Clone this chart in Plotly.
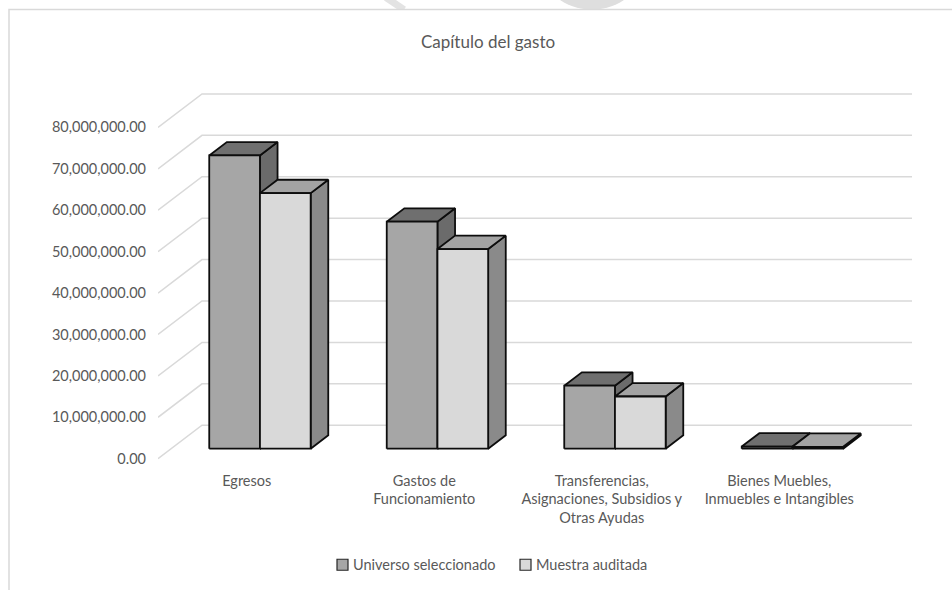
import math
import plotly.graph_objects as go

# ---------------- data ----------------
categories = ["Egresos", "Gastos de Funcionamiento",
              "Transferencias, Asignaciones, Subsidios y Otras Ayudas",
              "Bienes Muebles, Inmuebles e Intangibles"]
tick_text = ["Egresos", "Gastos de<br>Funcionamiento",
             "Transferencias,<br>Asignaciones, Subsidios y<br>Otras Ayudas",
             "Bienes Muebles,<br>Inmuebles e Intangibles"]
series_names = ["Universo seleccionado", "Muestra auditada"]
universo = [70.8e6, 54.8e6, 15.2e6, 0.5e6]
muestra = [61.7e6, 48.2e6, 12.6e6, 0.45e6]
y_ticks = [0, 10e6, 20e6, 30e6, 40e6, 50e6, 60e6, 70e6, 80e6]

# ---------------- geometry (pixel layout -> data units) ----------------
W, H = 952, 590
PL, PR = 158, 912            # plot area left/right in px
ZERO_PX = 459                # px of value 0 on the front plane
PPU = 41.4 / 10e6            # px per value unit
CAT_PX = 177.5               # px per category
DEPTH_PX = (44, 33.5)        # oblique depth offset in px

X0 = -0.5
X1 = X0 + (PR - PL) / CAT_PX
Y0, Y1 = -2e6, 90e6
top_px = ZERO_PX - Y1 * PPU
bot_px = ZERO_PX - Y0 * PPU

dxu = DEPTH_PX[0] / CAT_PX
dyu = DEPTH_PX[1] / PPU

def paper_x(px):
    return (px - PL) / (PR - PL)

def paper_y(py):
    return (bot_px - py) / (bot_px - top_px)

fig = go.Figure()

# back wall gridlines + floor-to-wall diagonals
gx, gy = [], []
for v in y_ticks:
    gx += [X0, X0 + dxu, X1, None]
    gy += [v, v + dyu, v + dyu, None]
fig.add_trace(go.Scatter(x=gx, y=gy, mode="lines",
                         line=dict(color="#d9d9d9", width=1.5),
                         hoverinfo="skip", showlegend=False))

# 3D bars
w = 1 / 3.5
fx, fy = 0.3 * dxu, 0.3 * dyu
bx, by = 0.4 * dxu, 0.4 * dyu
styles = [
    dict(front="#a6a6a6", top="#6f6f6f", side="#6b6b6b"),
    dict(front="#d9d9d9", top="#a3a3a3", side="#8a8a8a"),
]
edge = dict(color="#0d0d0d", width=1.8)
data = [universo, muestra]

for i in range(len(categories)):
    for s in range(2):
        v = data[s][i]
        L = i - w + s * w + fx
        R = L + w
        b = fy
        t = v + fy
        st = styles[s]
        side = ([R, R + bx, R + bx, R, R], [b, b + by, t + by, t, b])
        top = ([L, R, R + bx, L + bx, L], [t, t, t + by, t + by, t])
        front = ([L, R, R, L, L], [b, b, t, t, b])
        for (xs, ys), col in ((side, st["side"]), (top, st["top"]), (front, st["front"])):
            fig.add_trace(go.Scatter(x=xs, y=ys, mode="lines", fill="toself",
                                     fillcolor=col, line=edge,
                                     hoverinfo="skip", showlegend=False))

FONT = "Lato"
GREY = "#595959"

# legend (drawn manually: square key + label)
legend_keys = [(337, styles[0]["front"]), (520, styles[1]["front"])]
LEG_Y = 565
shapes = []
annotations = []
for (kx, col), name in zip(legend_keys, series_names):
    shapes.append(dict(type="rect", xref="paper", yref="paper",
                       x0=paper_x(kx), x1=paper_x(kx + 11),
                       y0=paper_y(LEG_Y + 5.5), y1=paper_y(LEG_Y - 5.5),
                       line=dict(color="#262626", width=1.2), fillcolor=col))
    annotations.append(dict(text=name, xref="paper", yref="paper",
                            x=paper_x(kx + 14), y=paper_y(LEG_Y),
                            xanchor="left", yanchor="middle", showarrow=False,
                            font=dict(family=FONT, size=14.5, color=GREY)))

# faint watermark fragments along the top edge
pts = []
for k in range(0, 37):
    a = math.radians(k * 5)
    pts.append((592 + 48 * math.cos(a), -28 + 38 * math.sin(a)))
path = "M " + " L ".join(f"{paper_x(px):.5f},{paper_y(py):.5f}" for px, py in pts) + " Z"
shapes.append(dict(type="path", xref="paper", yref="paper", path=path,
                   fillcolor="#dedede", line=dict(width=0), layer="below"))
shapes.append(dict(type="line", xref="paper", yref="paper",
                   x0=paper_x(386), y0=paper_y(-2), x1=paper_x(404), y1=paper_y(10),
                   line=dict(color="#e3e3e3", width=7), layer="below"))

# chart frame
shapes.append(dict(type="rect", xref="paper", yref="paper",
                   x0=paper_x(9), x1=paper_x(1000), y0=paper_y(700), y1=paper_y(10),
                   line=dict(color="#d9d9d9", width=1.5), fillcolor="white",
                   layer="below"))

fig.update_layout(
    width=W, height=H,
    paper_bgcolor="white", plot_bgcolor="rgba(0,0,0,0)",
    margin=dict(l=PL, r=W - PR, t=top_px, b=H - bot_px, pad=0),
    title=dict(text="Capítulo del gasto", x=paper_x(488), xref="paper",
               xanchor="center", y=1 - 42 / H, yanchor="middle",
               font=dict(family=FONT, size=17, color=GREY)),
    font=dict(family=FONT, size=14.5, color=GREY),
    showlegend=False,
    xaxis=dict(range=[X0, X1], tickvals=list(range(len(categories))),
               ticktext=tick_text, showgrid=False, zeroline=False,
               showline=False, ticks="", ticklabelstandoff=3,
               tickfont=dict(family=FONT, size=14.5, color=GREY), fixedrange=True),
    yaxis=dict(range=[Y0, Y1], tickvals=y_ticks, tickformat=",.2f",
               showgrid=False, zeroline=False, showline=False, ticks="",
               ticklabelstandoff=11,
               tickfont=dict(family=FONT, size=14.5, color=GREY), fixedrange=True),
    shapes=shapes,
    annotations=annotations,
)

fig.write_html("out.html")
